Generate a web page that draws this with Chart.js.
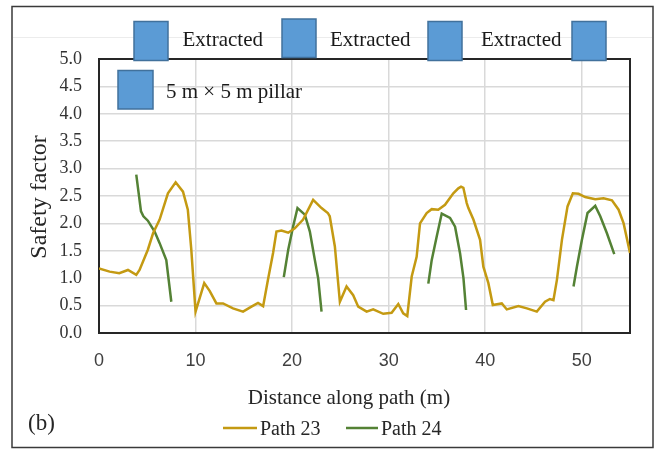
<!DOCTYPE html>
<html>
<head>
<meta charset="utf-8">
<script src="https://cdn.jsdelivr.net/npm/chart.js@4.4.1/dist/chart.umd.min.js"></script>
<style>
  html, body { margin: 0; padding: 0; background: #ffffff; }
  #wrap { width: 658px; height: 451px; }
</style>
</head>
<body>
<div id="wrap"><canvas id="c" width="658" height="451"></canvas></div>
<script>
// Safety factor along two paths through the pillar layout
const path23X = [0.0, 1.1, 2.1, 3.0, 3.86, 4.2, 5.06, 5.6, 6.28, 7.14, 7.94, 8.7, 9.2, 9.56, 10.0,
  10.9, 11.46, 12.16, 12.85, 13.88, 14.92, 15.79, 16.47, 17.0, 17.5, 18.03, 18.38, 18.9, 19.6, 20.28,
  21.14, 22.18, 23.05, 23.7, 23.9, 24.43, 24.95, 25.64, 26.33, 26.85, 27.72, 28.4, 29.44, 30.31, 31.0,
  31.51, 31.93, 32.39, 32.9, 33.25, 33.94, 34.46, 35.14, 35.84, 36.7, 37.22, 37.5, 37.74, 38.09, 38.26,
  38.78, 39.47, 39.81, 40.33, 40.79, 41.72, 42.24, 43.44, 44.32, 45.35, 46.2, 46.7, 47.07, 47.43, 47.95,
  48.53, 49.08, 49.67, 50.36, 51.4, 52.26, 53.13, 53.82, 54.34, 55.0];
const path23Y = [1.18, 1.12, 1.09, 1.15, 1.06, 1.15, 1.52, 1.82, 2.07, 2.55, 2.75, 2.58, 2.25, 1.52, 0.39,
  0.91, 0.77, 0.54, 0.54, 0.45, 0.39, 0.48, 0.55, 0.49, 0.97, 1.46, 1.85, 1.87, 1.83, 1.91,
  2.07, 2.43, 2.28, 2.19, 2.13, 1.58, 0.57, 0.85, 0.69, 0.48, 0.39, 0.43, 0.35, 0.37, 0.53,
  0.36, 0.31, 1.03, 1.39, 2.0, 2.19, 2.26, 2.25, 2.34, 2.55, 2.64, 2.67, 2.65, 2.37, 2.28,
  2.07, 1.70, 1.21, 0.91, 0.51, 0.54, 0.43, 0.49, 0.45, 0.39, 0.57, 0.62, 0.60, 0.97, 1.70,
  2.31, 2.55, 2.54, 2.48, 2.44, 2.46, 2.42, 2.25, 2.0, 1.46];

// Path 24 only crosses the pillars; null entries separate the four pieces
const path24X = [3.86, 4.35, 4.6, 5.06, 5.76, 6.28, 6.97, 7.49, null,
  19.14, 19.6, 20.1, 20.56, 21.32, 21.84, 22.36, 22.7, 23.05, null,
  34.11, 34.46, 34.98, 35.5, 36.36, 36.88, 37.4, 37.75, 38.02, null,
  49.15, 49.5, 50.02, 50.6, 51.4, 51.92, 52.61, 53.37];
const path24Y = [2.89, 2.22, 2.13, 2.05, 1.85, 1.64, 1.33, 0.57, null,
  1.02, 1.52, 1.94, 2.28, 2.16, 1.85, 1.33, 1.0, 0.39, null,
  0.9, 1.33, 1.76, 2.18, 2.1, 1.94, 1.45, 1.0, 0.42, null,
  0.85, 1.21, 1.70, 2.19, 2.32, 2.13, 1.82, 1.44];

const seriesNames = ['Path 23', 'Path 24'];
const seriesColors = ['#C49A12', '#548235'];
const xTickValues = [0, 10, 20, 30, 40, 50];
const zoneLabels = ['Extracted', 'Extracted', 'Extracted'];
const pillarLabel = '5 m \u00d7 5 m pillar';
const xTitle = 'Distance along path (m)';
const yTitle = 'Safety factor';
const panelTag = '(b)';

const toPoints = (xs, ys) => xs.map((x, i) => ({ x: x, y: ys[i] }));

const SERIF = '"Liberation Serif", "Times New Roman", serif';

// Page furniture: frame, plot border, pillar boxes, titles and legend
const decorations = {
  id: 'decorations',
  beforeDatasetsDraw(chart) {
    const ctx = chart.ctx;
    const a = chart.chartArea;
    ctx.save();
    ctx.strokeStyle = '#262626';
    ctx.lineWidth = 2;
    ctx.strokeRect(a.left, a.top, a.right - a.left, a.bottom - a.top);
    ctx.restore();
  },
  afterDraw(chart) {
    const ctx = chart.ctx;
    ctx.save();

    // outer frame
    ctx.strokeStyle = '#3a3a3a';
    ctx.lineWidth = 1.5;
    ctx.strokeRect(12, 6.5, 641, 441);

    // faint rule behind the box row
    ctx.strokeStyle = '#ececec';
    ctx.lineWidth = 1;
    ctx.beginPath();
    ctx.moveTo(13, 37.5);
    ctx.lineTo(652, 37.5);
    ctx.stroke();

    // pillar boxes
    const boxes = [[134, 21.5, 34, 39], [282, 19, 34, 38.5], [428, 21.5, 34, 39], [572, 21.5, 34, 39], [118, 70.5, 35, 38.5]];
    boxes.forEach(b => {
      ctx.fillStyle = '#5B9BD5';
      ctx.fillRect(b[0], b[1], b[2], b[3]);
      ctx.strokeStyle = '#41719C';
      ctx.lineWidth = 1.5;
      ctx.strokeRect(b[0], b[1], b[2], b[3]);
    });

    ctx.fillStyle = '#1a1a1a';
    ctx.textBaseline = 'alphabetic';
    ctx.textAlign = 'left';
    ctx.font = '21px ' + SERIF;
    const zoneX = [182.5, 330, 481];
    zoneLabels.forEach((t, i) => ctx.fillText(t, zoneX[i], 45.5));
    ctx.fillText(pillarLabel, 166, 97.5);

    // y title
    ctx.save();
    ctx.translate(46, 197);
    ctx.rotate(-Math.PI / 2);
    ctx.textAlign = 'center';
    ctx.font = '24px ' + SERIF;
    ctx.fillStyle = '#262626';
    ctx.fillText(yTitle, 0, 0);
    ctx.restore();

    // x title
    ctx.textAlign = 'center';
    ctx.font = '21px ' + SERIF;
    ctx.fillStyle = '#262626';
    ctx.fillText(xTitle, 349, 404);

    // panel tag
    ctx.textAlign = 'left';
    ctx.font = '23px ' + SERIF;
    ctx.fillText(panelTag, 28, 430);

    // legend
    ctx.font = '20px ' + SERIF;
    const legendX = [[223, 257, 260], [346, 378, 381]];
    chart.data.datasets.forEach((ds, i) => {
      const L = legendX[i];
      ctx.strokeStyle = ds.borderColor;
      ctx.lineWidth = 2.5;
      ctx.beginPath();
      ctx.moveTo(L[0], 428);
      ctx.lineTo(L[1], 428);
      ctx.stroke();
      ctx.fillStyle = '#262626';
      ctx.fillText(ds.label, L[2], 435);
    });

    ctx.restore();
  }
};

new Chart(document.getElementById('c'), {
  type: 'line',
  data: {
    datasets: [
      {
        label: seriesNames[0],
        data: toPoints(path23X, path23Y),
        borderColor: seriesColors[0],
        borderWidth: 2.5,
        pointRadius: 0,
        tension: 0,
        fill: false
      },
      {
        label: seriesNames[1],
        data: toPoints(path24X, path24Y),
        borderColor: seriesColors[1],
        borderWidth: 2.5,
        pointRadius: 0,
        tension: 0,
        fill: false,
        spanGaps: false
      }
    ]
  },
  options: {
    responsive: false,
    devicePixelRatio: 1,
    animation: false,
    layout: { padding: { top: 59, right: 28, bottom: 0, left: 0 } },
    plugins: {
      legend: { display: false },
      tooltip: { enabled: false },
      title: { display: false }
    },
    scales: {
      x: {
        type: 'linear',
        min: 0,
        max: 55,
        afterBuildTicks(scale) {
          scale.ticks = xTickValues.map(v => ({ value: v }));
        },
        afterFit(scale) { scale.height = 118; },
        grid: { color: '#d9d9d9', lineWidth: 1.5, drawTicks: false },
        border: { display: false },
        ticks: {
          padding: 17,
          color: '#404040',
          font: { family: '"Liberation Sans", Arial, sans-serif', size: 18 },
          callback: v => String(v)
        }
      },
      y: {
        type: 'linear',
        min: 0,
        max: 5,
        afterFit(scale) { scale.width = 99; },
        grid: { color: '#d9d9d9', lineWidth: 1.5, drawTicks: false },
        border: { display: false },
        ticks: {
          stepSize: 0.5,
          padding: 17,
          color: '#333333',
          font: { family: SERIF, size: 18 },
          callback: v => Number(v).toFixed(1)
        }
      }
    }
  },
  plugins: [decorations]
});
</script>
</body>
</html>
